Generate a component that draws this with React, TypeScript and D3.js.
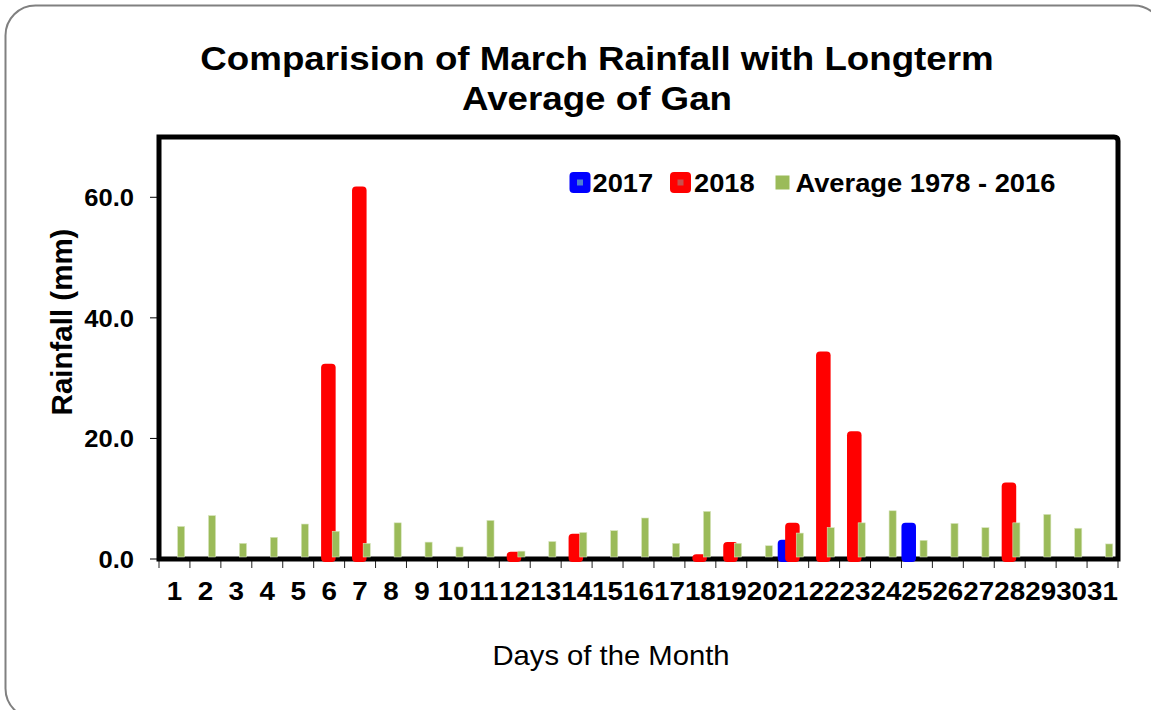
import React, { useEffect, useRef } from 'react';
import * as d3 from 'd3';

const days = d3.range(1, 32).map(String);
const rain2017 = [0, 0, 0, 0, 0, 0, 0, 0, 0, 0, 0, 0, 0, 0, 0, 0, 0, 0, 0, 0, 3.2, 0, 0, 0, 6.0, 0, 0, 0, 0, 0, 0];
const rain2018 = [0, 0, 0, 0, 0, 32.4, 61.8, 0, 0, 0, 0, 1.2, 0, 4.2, 0, 0, 0, 0.8, 2.8, 0, 6.0, 34.4, 21.2, 0, 0, 0, 0, 12.7, 0, 0, 0];
const rainAvg = [5.4, 7.2, 2.6, 3.6, 5.8, 4.6, 2.6, 6.0, 2.8, 2.0, 6.4, 1.3, 2.9, 4.4, 4.7, 6.8, 2.6, 7.9, 2.6, 2.2, 4.3, 5.2, 6.0, 8.0, 3.1, 5.9, 5.2, 6.0, 7.4, 5.1, 2.5];
const yTicks = [0, 20, 40, 60];

const FONT = '"Liberation Sans", Arial, sans-serif';

export default function App() {
    const chartRef = useRef<SVGSVGElement | null>(null);

    useEffect(() => {
        if (!chartRef.current) return;
        const svg = d3.select(chartRef.current);
        svg.selectAll('*').remove();

        const left = 159, right = 1118, top = 137, bottom = 559;

        const x = d3.scaleBand<string>().domain(days).range([left, right]).padding(0);
        const y = d3.scaleLinear().domain([0, 70]).range([bottom, top]);
        const bw = x.bandwidth();

        // the original picture is a little wider than tall, so text is stretched sideways
        const label = (g: any, tx: number, ty: number, txt: string, size: number, sx: number, anchor = 'start', bold = true) =>
            g.append('text')
                .attr('transform', `translate(${tx},${ty}) scale(${sx},1)`)
                .attr('text-anchor', anchor)
                .style('font-family', FONT)
                .style('font-weight', bold ? 'bold' : 'normal')
                .style('font-size', size + 'px')
                .style('fill', '#000')
                .text(txt);

        // outer rounded frame
        svg.append('rect')
            .attr('x', 5.5).attr('y', 5.5)
            .attr('width', 1158).attr('height', 713)
            .attr('rx', 30)
            .attr('fill', '#fff')
            .attr('stroke', '#808080')
            .attr('stroke-width', 2);

        // title
        label(svg, 597, 70, 'Comparision of March Rainfall with Longterm', 34, 1.08, 'middle');
        label(svg, 597, 110, 'Average of Gan', 34, 1.08, 'middle');

        // y ticks + labels
        svg.append('g').selectAll('line')
            .data(yTicks).enter().append('line')
            .attr('x1', left - 9).attr('x2', left)
            .attr('y1', d => y(d)).attr('y2', d => y(d))
            .attr('stroke', '#000').attr('stroke-width', 1);

        const yl = svg.append('g');
        yTicks.forEach(t => label(yl, 134, y(t) + 9, t.toFixed(1), 24, 1.065, 'end'));

        svg.append('text')
            .attr('transform', `translate(72, 322) rotate(-90)`)
            .attr('text-anchor', 'middle')
            .style('font-family', FONT)
            .style('font-weight', 'bold')
            .style('font-size', '29.5px')
            .text('Rainfall (mm)');

        // x category ticks
        svg.append('g').selectAll('line')
            .data(d3.range(0, 32)).enter().append('line')
            .attr('x1', i => left + i * bw).attr('x2', i => left + i * bw)
            .attr('y1', bottom).attr('y2', bottom + 9)
            .attr('stroke', '#222').attr('stroke-width', 1);

        const xl = svg.append('g');
        days.forEach(d => label(xl, (x(d) as number) + bw / 2, 600, d, 25.5, 1.09, 'middle'));

        label(svg, 611, 665, 'Days of the Month', 27, 1.083, 'middle', false);

        // plot frame
        const r = 4;
        svg.append('path')
            .attr('d', `M${left},${bottom} L${left},${top} L${right - r},${top} Q${right},${top} ${right},${top + r} L${right},${bottom} Z`)
            .attr('fill', 'none')
            .attr('stroke', '#000')
            .attr('stroke-width', 5);

        // bars: 2017, 2018 (rounded, overlapping), then average
        const roundBars = (vals: number[], off: number, color: string) => {
            svg.append('g').selectAll('rect')
                .data(days.map((d, i) => ({ d, v: vals[i] })).filter(p => p.v > 0))
                .enter().append('rect')
                .attr('x', p => (x(p.d) as number) + bw * off)
                .attr('y', p => y(p.v))
                .attr('width', bw * 0.47)
                .attr('height', p => bottom + 3 - y(p.v))
                .attr('rx', 4)
                .attr('fill', color);
        };
        roundBars(rain2017, 0.0, '#0000ff');
        roundBars(rain2018, 0.24, '#ff0000');

        svg.append('g').selectAll('rect')
            .data(days.map((d, i) => ({ d, v: rainAvg[i] })))
            .enter().append('rect')
            .attr('x', p => (x(p.d) as number) + bw * 0.6)
            .attr('y', p => y(p.v))
            .attr('width', bw * 0.23)
            .attr('height', p => bottom - 2 - y(p.v))
            .attr('fill', '#9bbb59')
            .attr('stroke', '#d7e4bd')
            .attr('stroke-width', 0.6);

        // legend
        const legend = svg.append('g');
        const marks = [
            { x: 569.5, label: '2017', color: '#0000ff', inner: '#4f7fd0', tx: 592.5 },
            { x: 670, label: '2018', color: '#ff0000', inner: '#c8504d', tx: 694 },
        ];
        marks.forEach(m => {
            legend.append('rect').attr('x', m.x).attr('y', 172).attr('width', 21).attr('height', 21).attr('rx', 4).attr('fill', m.color);
            legend.append('rect').attr('x', m.x + 7.5).attr('y', 179.5).attr('width', 6).attr('height', 6).attr('fill', m.inner);
            label(legend, m.tx, 192, m.label, 26, 1.05);
        });
        legend.append('rect').attr('x', 775.5).attr('y', 175.5).attr('width', 14).attr('height', 14).attr('fill', '#9bbb59');
        label(legend, 795.5, 192, 'Average 1978 - 2016', 26, 1.05);
    }, []);

    return (
        <svg
            ref={chartRef}
            width={1151}
            height={710}
            style={{ position: 'absolute', left: 0, top: 0, background: '#fff' }}
        />
    );
}
